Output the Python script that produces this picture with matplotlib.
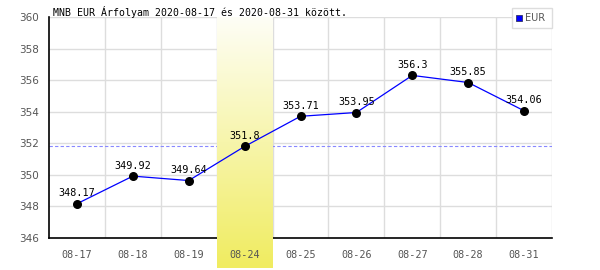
import matplotlib.pyplot as plt
import numpy as np
from matplotlib.colors import LinearSegmentedColormap
from matplotlib.patches import Rectangle

dates = ["08-17", "08-18", "08-19", "08-24", "08-25", "08-26", "08-27", "08-28", "08-31"]
rates = [348.17, 349.92, 349.64, 351.8, 353.71, 353.95, 356.3, 355.85, 354.06]
labels = ["348.17", "349.92", "349.64", "351.8", "353.71", "353.95", "356.3", "355.85", "354.06"]
highlight_idx = 3
y_ticks = [346, 348, 350, 352, 354, 356, 358, 360]

MONO = "DejaVu Sans Mono"

fig = plt.figure(figsize=(6, 2.7), dpi=100)
ax = fig.add_axes([49 / 600, 1 - 238 / 270, 503 / 600, 221 / 270])

x = np.arange(len(dates))
ax.set_xlim(-0.5, len(dates) - 0.5)
ax.set_ylim(346, 360)

# highlighted day: gradient band, covers grid and axis line, runs below the axis
grad = np.linspace(0, 1, 256).reshape(-1, 1)
cmap = LinearSegmentedColormap.from_list("hl", ["#fefef6", "#f0ec60"])
ax.imshow(grad, cmap=cmap, aspect="auto", origin="upper",
          extent=(highlight_idx - 0.5, highlight_idx + 0.5, 344.1, 360),
          zorder=2.7, clip_on=False)

for xv in np.arange(0.5, len(dates) - 0.5):
    ax.axvline(xv, color="#dddddd", lw=1, zorder=1)
ax.axvline(len(dates) - 0.5, color="#dddddd", lw=1, zorder=1)
for yv in y_ticks[1:]:
    ax.axhline(yv, color="#dddddd", lw=1, zorder=1)

ax.axhline(rates[highlight_idx], color="#8888ff", lw=0.8, ls=(0, (3, 2)), zorder=2)

ax.plot(x, rates, color="#0000ff", lw=0.9, zorder=3)
ax.scatter(x, rates, s=30, color="black", zorder=4)
for xi, yi, lab in zip(x, rates, labels):
    ax.annotate(lab, (xi, yi), xytext=(0, 4), textcoords="offset points",
                ha="center", va="bottom", fontsize=7.3, family=MONO, color="black", zorder=5)

ax.set_xticks(x)
ax.set_xticklabels(dates, family=MONO, fontsize=7.3, color="#555555")
ax.set_yticks(y_ticks)
ax.set_yticklabels([str(v) for v in y_ticks], fontsize=7.5, color="#555555")
ax.tick_params(length=0, pad=7)
ax.tick_params(axis="x", pad=9)
ax.xaxis.set_zorder(3)

for side in ["top", "right"]:
    ax.spines[side].set_visible(False)
ax.spines["left"].set_linewidth(1.2)
ax.spines["bottom"].set_linewidth(1.2)

fig.text(53 / 600, 1 - 12 / 270, "MNB EUR Árfolyam 2020-08-17 és 2020-08-31 között.",
         family=MONO, fontsize=7.1, va="center", ha="left", color="black")

# legend box
fig.patches.append(Rectangle((512 / 600, 1 - 28 / 270), 40 / 600, 20 / 270,
                             transform=fig.transFigure, facecolor="white",
                             edgecolor="#dddddd", lw=1, zorder=10))
fig.patches.append(Rectangle((516 / 600, 1 - 21 / 270), 6 / 600, 6 / 270,
                             transform=fig.transFigure, facecolor="#0000ff",
                             edgecolor="#333366", lw=0.6, zorder=11))
fig.text(525 / 600, 1 - 18 / 270, "EUR", fontsize=7, color="#555555",
         va="center", ha="left", zorder=12)

fig.savefig("out.png", dpi=100)
